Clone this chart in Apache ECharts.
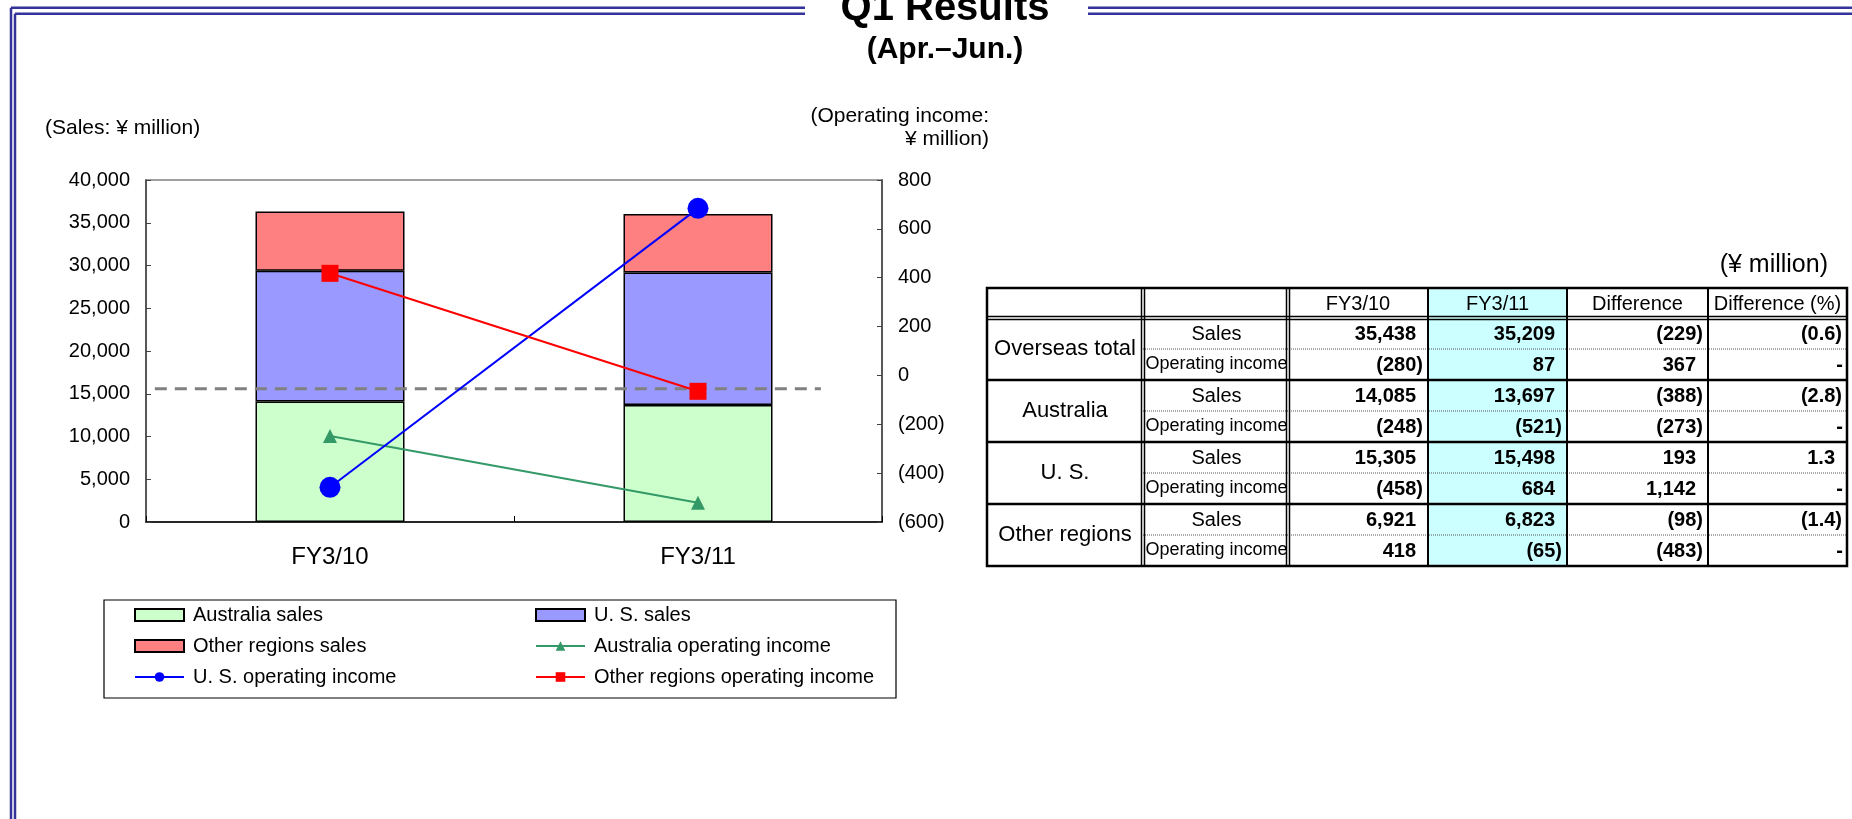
<!DOCTYPE html>
<html><head><meta charset="utf-8">
<script src="https://cdn.jsdelivr.net/npm/echarts@6/dist/echarts.min.js"></script>
<style>html,body{margin:0;padding:0;background:#fff}#c{width:1852px;height:819px}</style>
</head><body><div id="c"></div>
<script>
// ---- chart data ----
const categories = ['FY3/10', 'FY3/11'];
const australiaSales = [14085, 13697];
const usSales = [15305, 15498];
const otherSales = [6921, 6823];
const australiaOpIncome = [-248, -521];
const usOpIncome = [-458, 684];
const otherOpIncome = [418, -65];
const refLineValue = -55;
const refLineSpan = [0.012, 0.917];
const salesTicks = { min: 0, max: 40000, interval: 5000 };
const incomeTicks = { min: -600, max: 800, interval: 200 };

// ---- table data ----
const tableRegions = ['Overseas total', 'Australia', 'U. S.', 'Other regions'];
const tableRowLabels = ['Sales', 'Operating income'];
const tableHeaders = ['FY3/10', 'FY3/11', 'Difference', 'Difference (%)'];
const fy10Sales = [35438, 14085, 15305, 6921];
const fy10OpIncome = [-280, -248, -458, 418];
const fy11Sales = [35209, 13697, 15498, 6823];
const fy11OpIncome = [87, -521, 684, -65];
const diffSales = [-229, -388, 193, -98];
const diffOpIncome = [367, -273, 1142, -483];
const diffPctSales = [-0.6, -2.8, 1.3, -1.4];
const diffPctOpIncome = [null, null, null, null];

const FONT = '"Liberation Sans", Arial, sans-serif';
function commas(n) { return String(n).replace(/\B(?=(\d{3})+(?!\d))/g, ','); }
function fmtInt(v) { return v < 0 ? '(' + commas(-v) + ')' : commas(v); }
function fmtPct(v) { if (v === null) return '-'; return v < 0 ? '(' + (-v).toFixed(1) + ')' : v.toFixed(1); }

function txt(s, x, y, align, size, weight) {
  return { type: 'text', silent: true, style: { text: s, x: x, y: y, align: align, verticalAlign: 'middle',
    fontSize: size, fontWeight: weight || 'normal', fontFamily: FONT, fill: '#000' } };
}
function ln(x1, y1, x2, y2, w, color, dash) {
  const st = { stroke: color || '#000', lineWidth: w };
  if (dash) st.lineDash = dash;
  return { type: 'line', silent: true, shape: { x1: x1, y1: y1, x2: x2, y2: y2 }, style: st };
}

const g = [];
// page frame (double blue lines)
const frameColor = '#333399';
g.push(ln(11, 7.7, 11, 819, 2.5, frameColor));
g.push(ln(15, 13.7, 15, 819, 2.5, frameColor));
g.push(ln(11, 7.7, 805, 7.7, 2.5, frameColor));
g.push(ln(15, 13.7, 805, 13.7, 2.5, frameColor));
g.push(ln(1088, 7.7, 1852, 7.7, 2.5, frameColor));
g.push(ln(1088, 13.7, 1852, 13.7, 2.5, frameColor));
// titles
g.push(txt('Q1 Results', 945, 9, 'center', 40, 'bold'));
g.push(txt('(Apr.\u2013Jun.)', 945, 50, 'center', 30, 'bold'));
// axis unit labels
g.push(txt('(Sales: \u00a5 million)', 45, 128, 'left', 21));
g.push(txt('(Operating income:', 989, 116, 'right', 21));
g.push(txt('\u00a5 million)', 989, 139, 'right', 21));
// legend frame
g.push({ type: 'rect', silent: true, shape: { x: 104, y: 600, width: 792, height: 98 }, style: { fill: 'none', stroke: '#000', lineWidth: 1.2 } });

// ---- table ----
const colX = [987, 1143, 1288, 1428, 1567, 1708, 1847];
const tTop = 288, tHead = 318, blockH = 62;
const tBottom = tHead + blockH * tableRegions.length;
g.push(txt('(\u00a5 million)', 1828, 265, 'right', 25));
g.push({ type: 'rect', silent: true, shape: { x: colX[3], y: tTop, width: colX[4] - colX[3], height: tBottom - tTop }, style: { fill: '#CCFFFF' } });
tableHeaders.forEach((h, i) => g.push(txt(h, (colX[i + 2] + colX[i + 3]) / 2, (tTop + tHead) / 2 + 1, 'center', 20)));
const dataCols = [[fy10Sales, fy10OpIncome, fmtInt], [fy11Sales, fy11OpIncome, fmtInt], [diffSales, diffOpIncome, fmtInt], [diffPctSales, diffPctOpIncome, fmtPct]];
tableRegions.forEach((r, bi) => {
  const by = tHead + bi * blockH;
  g.push(txt(r, (colX[0] + colX[1]) / 2, by + blockH / 2, 'center', 22));
  g.push(txt(tableRowLabels[0], (colX[1] + colX[2]) / 2 + 1, by + blockH / 4 + 1, 'center', 20));
  g.push(txt(tableRowLabels[1], (colX[1] + colX[2]) / 2 + 1, by + 3 * blockH / 4, 'center', 18));
  dataCols.forEach((c, ci) => {
    [c[0][bi], c[1][bi]].forEach((v, ri) => {
      const s = c[2](v);
      const pad = s === '-' ? 4 : (s[0] === '(' ? 5 : 12);
      g.push(txt(s, colX[ci + 3] - pad, by + (ri * 2 + 1) * blockH / 4 + 1, 'right', 20, 'bold'));
    });
  });
  if (bi > 0) g.push(ln(colX[0], by, colX[6], by, 2.5));
  g.push(ln(colX[1], by + blockH / 2, colX[6], by + blockH / 2, 1, '#555', [1, 1]));
});
// header double line
g.push(ln(colX[0], tHead - 1.5, colX[6], tHead - 1.5, 1.5));
g.push(ln(colX[0], tHead + 1.5, colX[6], tHead + 1.5, 1.5));
// vertical lines
[1, 2].forEach(i => { g.push(ln(colX[i] - 1.5, tTop, colX[i] - 1.5, tBottom, 1.5)); g.push(ln(colX[i] + 1.5, tTop, colX[i] + 1.5, tBottom, 1.5)); });
[3, 4, 5].forEach(i => g.push(ln(colX[i], tTop, colX[i], tBottom, 2)));
g.push({ type: 'rect', silent: true, shape: { x: colX[0], y: tTop, width: colX[6] - colX[0], height: tBottom - tTop }, style: { fill: 'none', stroke: '#000', lineWidth: 2.5 } });

const chart = echarts.init(document.getElementById('c'), null, { renderer: 'canvas' });
const axisLabelBase = { color: '#000', fontSize: 20, fontFamily: FONT };
const legendBase = {
  orient: 'vertical', top: 605, padding: 0, itemWidth: 49, itemHeight: 12, itemGap: 11, selectedMode: false,
  textStyle: { color: '#000', fontSize: 20, fontFamily: FONT, lineHeight: 20, padding: [0, 0, 0, 4] }
};
chart.setOption({
  backgroundColor: '#fff',
  animation: false,
  textStyle: { fontFamily: FONT },
  grid: { left: 146, right: 970, top: 180, bottom: 297, show: true, borderColor: '#808080', borderWidth: 1.5, backgroundColor: 'transparent' },
  legend: [
    Object.assign({}, legendBase, { left: 134, data: [{ name: 'Australia sales', icon: 'rect' }, { name: 'Other regions sales', icon: 'rect' }, 'U. S. operating income'] }),
    Object.assign({}, legendBase, { left: 535, data: [{ name: 'U. S. sales', icon: 'rect' }, 'Australia operating income', 'Other regions operating income'] })
  ],
  xAxis: [
    { type: 'category', data: categories, axisLine: { lineStyle: { color: '#000', width: 1.5 } },
      axisTick: { show: true, inside: true, length: 6, lineStyle: { color: '#000' } },
      axisLabel: { color: '#000', fontSize: 24, fontFamily: FONT, margin: 23 } },
    { type: 'value', min: 0, max: 1, show: false }
  ],
  yAxis: [
    { type: 'value', position: 'left', min: salesTicks.min, max: salesTicks.max, interval: salesTicks.interval,
      axisLine: { show: true, lineStyle: { color: '#404040', width: 1.5 } },
      axisTick: { show: true, inside: true, length: 5, lineStyle: { color: '#404040' } },
      splitLine: { show: false },
      axisLabel: Object.assign({ margin: 16, formatter: v => commas(v) }, axisLabelBase) },
    { type: 'value', position: 'right', min: incomeTicks.min, max: incomeTicks.max, interval: incomeTicks.interval, alignTicks: false,
      axisLine: { show: true, lineStyle: { color: '#404040', width: 1.5 } },
      axisTick: { show: true, inside: true, length: 5, lineStyle: { color: '#404040' } },
      splitLine: { show: false },
      axisLabel: Object.assign({ margin: 16, formatter: v => v < 0 ? '(' + (-v) + ')' : String(v) }, axisLabelBase) }
  ],
  series: [
    { name: 'Australia sales', type: 'bar', stack: 'sales', barWidth: 149, data: australiaSales,
      itemStyle: { color: '#CCFFCC', borderColor: '#000', borderWidth: 1.5 } },
    { name: 'U. S. sales', type: 'bar', stack: 'sales', barWidth: 149, data: usSales,
      itemStyle: { color: '#9999FF', borderColor: '#000', borderWidth: 1.5 } },
    { name: 'Other regions sales', type: 'bar', stack: 'sales', barWidth: 149, data: otherSales,
      itemStyle: { color: '#FF8080', borderColor: '#000', borderWidth: 1.5 } },
    { name: 'reference', type: 'line', xAxisIndex: 1, yAxisIndex: 1, silent: true, symbol: 'none',
      data: [[refLineSpan[0], refLineValue], [refLineSpan[1], refLineValue]],
      lineStyle: { color: '#808080', width: 3, type: [12, 8] } },
    { name: 'Australia operating income', type: 'line', yAxisIndex: 1, data: australiaOpIncome,
      symbol: 'triangle', symbolSize: 14, color: '#339966', lineStyle: { color: '#339966', width: 2 }, itemStyle: { color: '#339966' } },
    { name: 'U. S. operating income', type: 'line', yAxisIndex: 1, data: usOpIncome,
      symbol: 'circle', symbolSize: 21, color: '#0000FF', lineStyle: { color: '#0000FF', width: 2 }, itemStyle: { color: '#0000FF' } },
    { name: 'Other regions operating income', type: 'line', yAxisIndex: 1, data: otherOpIncome,
      symbol: 'rect', symbolSize: 17, color: '#FF0000', lineStyle: { color: '#FF0000', width: 2 }, itemStyle: { color: '#FF0000' } }
  ],
  graphic: g
});
</script>
</body></html>
